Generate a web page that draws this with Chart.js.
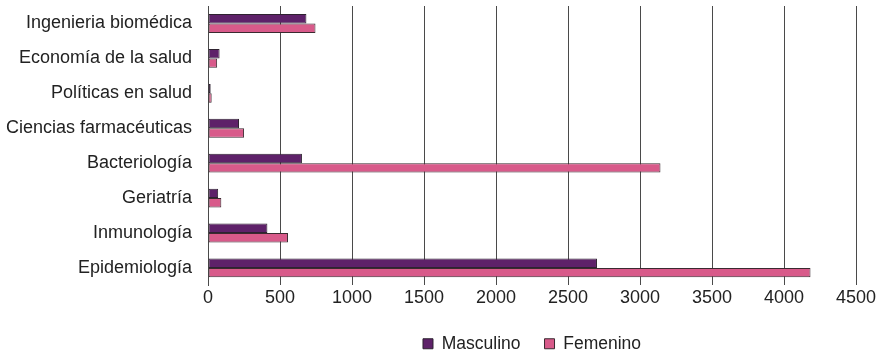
<!DOCTYPE html>
<html>
<head>
<meta charset="utf-8">
<script src="https://cdn.jsdelivr.net/npm/chart.js@4"></script>
<style>
html,body{margin:0;padding:0;background:#fff;}
#wrap{width:880px;height:355px;position:relative;}
</style>
</head>
<body>
<div id="wrap"><canvas id="c"></canvas></div>
<script>
const categories = ["Ingenieria biomédica","Economía de la salud","Políticas en salud","Ciencias farmacéuticas","Bacteriología","Geriatría","Inmunología","Epidemiología"];
const masculino = [683, 80, 18, 215, 652, 70, 412, 2701];
const femenino  = [746, 63, 25, 250, 3142, 92, 555, 4184];
const xTicks = [0,500,1000,1500,2000,2500,3000,3500,4000,4500];

const FONT = 'Liberation Sans, Arial, Helvetica, sans-serif';

new Chart(document.getElementById('c'), {
  type: 'bar',
  data: {
    labels: categories,
    datasets: [
      {label:'Masculino', data: masculino, backgroundColor:'#5e2169', borderColor:'#2e2230', borderWidth:1, borderSkipped:false},
      {label:'Femenino', data: femenino, backgroundColor:'#d85a8a', borderColor:'#3a2a30', borderWidth:1, borderSkipped:false}
    ]
  },
  options: {
    indexAxis: 'y',
    responsive: true,
    maintainAspectRatio: false,
    animation: false,
    layout: {padding: {top: 6, right: 24, bottom: 0, left: 6}},
    datasets: {bar: {categoryPercentage: 0.54, barPercentage: 1}},
    scales: {
      x: {
        min: 0, max: 4500,
        afterBuildTicks: (ax) => { ax.ticks = xTicks.map(v => ({value: v})); },
        grid: {color: '#4a4a4a', lineWidth: 1, drawTicks: false},
        border: {display: false},
        ticks: {color: '#222', padding: 2, font: {family: FONT, size: 18}, callback: (v) => String(v)}
      },
      y: {
        afterFit: (s) => { s.paddingTop = 0; s.paddingBottom = 0; },
        grid: {display: true, drawOnChartArea: false, drawTicks: true, tickLength: 16, color: 'rgba(0,0,0,0)'},
        border: {display: true, color: '#4a4a4a'},
        ticks: {color: '#222', padding: 0, font: {family: FONT, size: 18}}
      }
    },
    plugins: {
      legend: {
        position: 'bottom',
        fullSize: false,
        maxHeight: 44,
        labels: {boxWidth: 10, boxHeight: 10, padding: 24, color: '#222', font: {family: FONT, size: 17.5}}
      },
      tooltip: {enabled: false}
    }
  }
});
</script>
</body>
</html>
